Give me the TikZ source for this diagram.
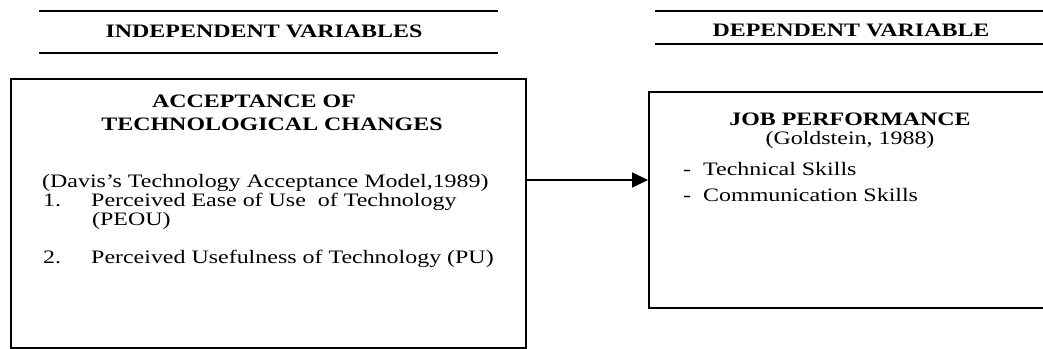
\documentclass[tikz,border=0pt]{standalone}
\usepackage{fontspec}
\setmainfont{Liberation Serif}[FakeStretch=1.26]
\usetikzlibrary{arrows.meta}
\begin{document}
\begin{tikzpicture}[x=1pt,y=-1pt,
  frame/.style={draw, line width=2pt, inner sep=0pt, anchor=north west},
  rule/.style={line width=2pt},
  body/.style={inner sep=0pt, font=\fontsize{19}{22}\selectfont},
  txt/.style={body, anchor=base west},
  ctxt/.style={body, anchor=base},
  hdr/.style={ctxt, font=\fontsize{19}{22}\selectfont\bfseries},
  link/.style={line width=2pt, -{Triangle[length=16pt,width=15pt]}}
]
\useasboundingbox (0,0) rectangle (1043,348);
\clip (0,0) rectangle (1043,348);

% column headings between two rules
\draw[rule] (39,11) -- (498,11);
\draw[rule] (39,53) -- (498,53);
\node[hdr] (indep) at (264,37) {INDEPENDENT VARIABLES};
\draw[rule] (655,11) -- (1050,11);
\draw[rule] (655,44) -- (1050,44);
\node[hdr] (dep) at (851,36) {DEPENDENT VARIABLE};

% the two variable boxes
\node[frame, minimum width=515pt, minimum height=269pt] (accept) at (10,78) {};
\node[frame, minimum width=420pt, minimum height=216pt] (perf) at (648,91) {};

% independent variable
\node[hdr] (accA) at (254,107) {ACCEPTANCE OF};
\node[hdr] (accB) at (272,130) {TECHNOLOGICAL CHANGES};
\node[txt] (davis) at (42,187) {(Davis’s Technology Acceptance Model,1989)};
\node[txt] (n1) at (43,206) {1.};
\node[txt] (peou) at (91,206) {Perceived Ease of Use\ \ of Technology};
\node[txt] (peouB) at (92,225) {(PEOU)};
\node[txt] (n2) at (43,263) {2.};
\node[txt] (pu) at (91,263) {Perceived Usefulness of Technology (PU)};

% dependent variable
\node[hdr] (job) at (850,125) {JOB PERFORMANCE};
\node[ctxt] (gold) at (850,144) {(Goldstein, 1988)};
\node[txt] (d1) at (683,175) {-};
\node[txt] (tech) at (703,175) {Technical Skills};
\node[txt] (d2) at (683,201) {-};
\node[txt] (comm) at (703,201) {Communication Skills};

% influence arrow
\coordinate (tip) at (648,180);
\draw[link] (accept.east |- tip) -- (tip);
\end{tikzpicture}
\end{document}
